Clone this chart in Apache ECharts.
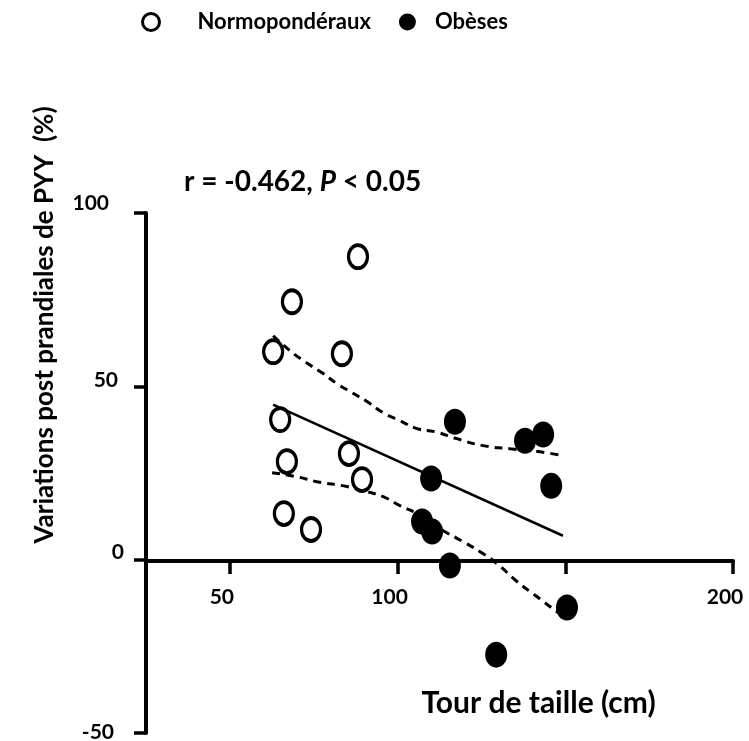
<!DOCTYPE html>
<html>
<head>
<meta charset="utf-8">
<script src="https://cdn.jsdelivr.net/npm/echarts@6/dist/echarts.min.js"></script>
<style>html,body{margin:0;padding:0;background:#fff;}#c{width:749px;height:741px;}</style>
</head>
<body>
<div id="c"></div>
<script>
// Data
const normX = [88.2, 68.5, 62.9, 83.4, 65.0, 67.0, 85.5, 89.4, 66.1, 74.2];
const normY = [87.4, 74.4, 60.0, 59.4, 40.4, 28.3, 30.6, 23.1, 13.3, 8.7];
const obX = [117.1, 138.0, 143.4, 110.0, 145.8, 107.3, 110.3, 115.6, 150.5, 129.4];
const obY = [39.8, 34.3, 36.1, 23.4, 21.3, 11.0, 8.1, -1.7, -13.8, -27.4];
const fitX = [62.9, 149.3];
const fitY = [44.7, 6.9];
const upX = [62.9, 67.9, 72.4, 77.5, 81.9, 86.4, 90.9, 95.7, 100.7, 105.8, 111.2, 117.7, 125.5, 133.5, 142.5, 149.3];
const upY = [64.6, 60.3, 57.1, 53.9, 50.8, 48.2, 45.6, 42.4, 40.1, 37.8, 36.9, 34.9, 32.9, 32.0, 31.1, 30.0];
const loX = [62.6, 70.0, 76.0, 84.9, 90.9, 95.7, 100.7, 105.8, 112.7, 119.5, 124.6, 129.7, 135.6, 141.6, 147.5, 149.3];
const loY = [25.1, 23.9, 22.5, 21.1, 19.6, 18.2, 15.6, 13.3, 8.9, 5.2, 2.3, -1.2, -6.3, -10.7, -15.0, -16.0];
const xTicks = [50, 100, 150, 200];
const xLabels = [50, 100, 200];
const seriesNames = ['Normopondéraux', 'Obèses'];
const titleText = ['r = -0.462, ', 'P', ' < 0.05'];
const xName = 'Tour de taille (cm)';
const yName = 'Variations post prandiales de PYY  (%)';

const FONT = 'Lato';
const zip = (a, b) => a.map((v, i) => [v, b[i]]);
const bold = {fontFamily: FONT, fontWeight: 'bold', fontSize: 21, color: '#000'};

const chart = echarts.init(document.getElementById('c'), null, {renderer: 'canvas'});
chart.setOption({
  animation: false,
  backgroundColor: '#fff',
  title: {
    text: '{b|' + titleText[0] + '}{i|' + titleText[1] + '}{b|' + titleText[2] + '}',
    left: 179, top: 163,
    textStyle: {
      rich: {
        b: {fontFamily: FONT, fontWeight: 'bold', fontSize: 28, color: '#000'},
        i: {fontFamily: FONT, fontWeight: 'bold', fontStyle: 'italic', fontSize: 28, color: '#000'}
      }
    }
  },
  legend: {
    data: seriesNames,
    left: 136, top: 6,
    itemWidth: 17, itemHeight: 21,
    symbolKeepAspect: false,
    itemGap: 28,
    itemStyle: {borderWidth: 3},
    formatter: function (n) { return n === seriesNames[0] ? '{a|' + n + '}' : '{o|' + n + '}'; },
    textStyle: {
      rich: {
        a: Object.assign({}, bold, {fontSize: 22, padding: [0, 0, 0, 33]}),
        o: Object.assign({}, bold, {fontSize: 22, padding: [0, 0, 0, 14]})
      }
    }
  },
  grid: {left: 146, right: 16, top: 213, bottom: 8, containLabel: false, outerBoundsMode: 'none'},
  xAxis: {
    type: 'value', min: 25, max: 200, position: 'bottom', offset: -172,
    name: xName, nameLocation: 'middle', nameGap: 127,
    nameTextStyle: Object.assign({}, bold, {fontSize: 30, padding: [0, 0, 0, 198]}),
    axisLine: {show: true, onZero: false, lineStyle: {color: '#000', width: 4}},
    axisTick: {show: true, customValues: xTicks, length: 13, lineStyle: {color: '#000', width: 3.5}},
    axisLabel: {customValues: xLabels, margin: 26, padding: [0, 16, 0, 0], fontFamily: FONT, fontWeight: 'bold', fontSize: 21, color: '#000'},
    splitLine: {show: false}
  },
  yAxis: {
    type: 'value', min: -50, max: 100, interval: 50,
    name: yName, nameLocation: 'middle', nameGap: 88,
    nameTextStyle: Object.assign({}, bold, {fontSize: 26, padding: [0, 0, 0, 296]}),
    axisLine: {show: true, onZero: false, lineStyle: {color: '#000', width: 4}},
    axisTick: {show: true, length: 12, lineStyle: {color: '#000', width: 3.5}},
    axisLabel: {
      margin: 22,
      formatter: function (v) {
        const k = v === 100 ? 'a' : v === 50 ? 'b' : v === 0 ? 'c' : 'd';
        return '{' + k + '|' + v + '}';
      },
      rich: {
        a: Object.assign({}, bold, {width: 50, align: 'right', padding: [0, 15, 20, 0]}),
        b: Object.assign({}, bold, {width: 50, align: 'right', padding: [0, 6, 12, 0]}),
        c: Object.assign({}, bold, {width: 50, align: 'right', padding: [0, 0, 14, 0]}),
        d: Object.assign({}, bold, {width: 50, align: 'right', padding: [0, 10, 2, 0]})
      }
    },
    splitLine: {show: false}
  },
  series: [
    {type: 'line', data: zip(fitX, fitY), showSymbol: false, symbol: 'none', z: 1,
     lineStyle: {color: '#000', width: 2.5}},
    {type: 'line', data: zip(upX, upY), showSymbol: false, symbol: 'none', smooth: true, z: 1,
     lineStyle: {color: '#000', width: 3, type: [8, 6]}},
    {type: 'line', data: zip(loX, loY), showSymbol: false, symbol: 'none', smooth: true, z: 1,
     lineStyle: {color: '#000', width: 3, type: [8, 6]}},
    {name: seriesNames[0], type: 'scatter', data: zip(normX, normY), symbol: 'circle', symbolSize: [19, 23], z: 3,
     itemStyle: {color: '#fff', borderColor: '#000', borderWidth: 3.5, opacity: 1}},
    {name: seriesNames[1], type: 'scatter', data: zip(obX, obY), symbol: 'circle', symbolSize: [22, 26], z: 3,
     itemStyle: {color: '#000', opacity: 1}}
  ]
});
</script>
</body>
</html>
